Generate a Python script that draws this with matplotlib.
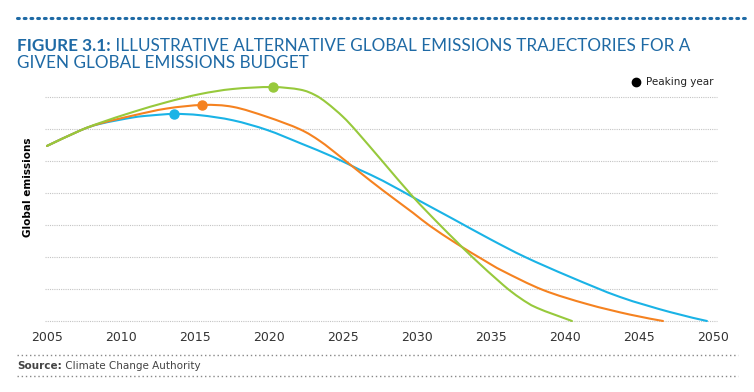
import matplotlib
matplotlib.use("Agg")
import matplotlib.pyplot as plt
from matplotlib.lines import Line2D
from matplotlib.path import Path
from matplotlib.patches import PathPatch

# ---- data (x in years, y in gridline units) ----
BLUE_YEARS = [2005.0, 2007.23, 2008.58, 2010.81, 2011.96, 2013.58, 2015.34, 2017.57, 2019.86,
              2022.09, 2024.32, 2026.15, 2027.70, 2030.07, 2032.43, 2034.93, 2037.30,
              2040.34, 2043.72, 2047.09, 2049.59]
BLUE_VALS = [5.47, 5.95, 6.16, 6.36, 6.42, 6.47, 6.43, 6.27, 5.97,
             5.56, 5.13, 4.72, 4.38, 3.78, 3.19, 2.56, 2.0,
             1.38, 0.75, 0.28, 0.0]

ORANGE_YEARS = [2005.0, 2007.23, 2008.58, 2010.81, 2013.11, 2015.54, 2017.57, 2019.86, 2022.09,
                2023.45, 2024.80, 2026.15, 2027.70, 2029.73, 2030.88, 2032.70, 2034.59,
                2035.81, 2038.51, 2041.49, 2044.39, 2046.62]
ORANGE_VALS = [5.47, 5.95, 6.17, 6.42, 6.64, 6.75, 6.69, 6.38, 5.99,
               5.62, 5.14, 4.64, 4.08, 3.38, 2.97, 2.41, 1.88,
               1.56, 0.97, 0.53, 0.20, 0.0]

GREEN_YEARS = [2005.0, 2007.23, 2008.58, 2010.81, 2013.11, 2015.34, 2017.57, 2020.20, 2022.09,
               2023.11, 2023.92, 2025.00, 2025.95, 2027.70, 2029.73, 2031.42, 2032.70, 2033.78,
               2035.81, 2036.96, 2038.11, 2040.47]
GREEN_VALS = [5.47, 5.95, 6.19, 6.53, 6.84, 7.09, 7.25, 7.31, 7.23,
              7.06, 6.81, 6.38, 5.91, 4.97, 3.88, 3.06, 2.47, 1.98,
              1.13, 0.72, 0.41, 0.0]

PEAK_YEARS = [2013.55, 2015.5, 2020.25]
PEAK_VALS = [6.47, 6.75, 7.31]

TICK_YEARS = [2005, 2010, 2015, 2020, 2025, 2030, 2035, 2040, 2045, 2050]
GRID_LEVELS = [0, 1, 2, 3, 4, 5, 6, 7]

BLUE = '#1ab3e6'
ORANGE = '#f58220'
GREEN = '#97c93c'
TITLE_BLUE = '#1f6aa5'


def smooth_path(xs, ys):
    # Catmull-Rom through the read points, drawn as cubic Bezier segments
    pts = list(zip(xs, ys))
    verts, codes = [pts[0]], [Path.MOVETO]
    for i in range(len(pts) - 1):
        p0 = pts[i - 1] if i > 0 else pts[i]
        p1, p2 = pts[i], pts[i + 1]
        p3 = pts[i + 2] if i + 2 < len(pts) else p2
        c1 = (p1[0] + (p2[0] - p0[0]) / 6, p1[1] + (p2[1] - p0[1]) / 6)
        c2 = (p2[0] - (p3[0] - p1[0]) / 6, p2[1] - (p3[1] - p1[1]) / 6)
        verts += [c1, c2, p2]
        codes += [Path.CURVE4] * 3
    return Path(verts, codes)


W, H = 754, 392
fig = plt.figure(figsize=(W / 100, H / 100), dpi=100)
ax = fig.add_axes([45 / W, (H - 321) / H, (717 - 45) / W, (321 - 80) / H])
ax.set_xlim(2004.865, 2050.27)
ax.set_ylim(0, 7.53)

for yrs, vals, col in [(BLUE_YEARS, BLUE_VALS, BLUE),
                       (ORANGE_YEARS, ORANGE_VALS, ORANGE),
                       (GREEN_YEARS, GREEN_VALS, GREEN)]:
    ax.add_patch(PathPatch(smooth_path(yrs, vals), fill=False, edgecolor=col, lw=1.5,
                           capstyle='round', joinstyle='round', clip_on=False, zorder=3))

for x, y, col in zip(PEAK_YEARS, PEAK_VALS, [BLUE, ORANGE, GREEN]):
    ax.plot([x], [y], 'o', color=col, markersize=6.5, zorder=4, clip_on=False)

ax.set_yticks(GRID_LEVELS)
ax.set_yticklabels([])
ax.set_xticks(TICK_YEARS)
ax.set_xticklabels([str(t) for t in TICK_YEARS], fontsize=9, color='#333333')
ax.tick_params(axis='both', length=0)
ax.tick_params(axis='x', pad=7)
ax.grid(axis='y', color='#c4c4c4', linestyle=(0, (1, 1)), lw=0.8)
for gl in ax.get_ygridlines():
    gl.set_clip_on(False)
for s in ax.spines.values():
    s.set_visible(False)

fig.text(28 / W, 1 - 187 / H, 'Global emissions', rotation=90, fontsize=7.5,
         fontweight='bold', ha='center', va='center')

# peaking year key
fig.add_artist(Line2D([636 / W], [1 - 82 / H], marker='o', color='black', markersize=6))
fig.text(646 / W, 1 - 82 / H, 'Peaking year', fontsize=7.5, va='center', color='#222222')

# title block
fig.add_artist(Line2D([17 / W, 745 / W], [1 - 18 / H, 1 - 18 / H], color=TITLE_BLUE,
                      lw=2.2, linestyle=(0, (0.6, 1.6)), dash_capstyle='round'))
t1 = fig.text(17 / W, 1 - 51 / H, 'FIGURE 3.1:', fontsize=12.3, fontweight='bold',
              color=TITLE_BLUE, va='baseline', family='Lato')
ax.annotate(' ILLUSTRATIVE ALTERNATIVE GLOBAL EMISSIONS TRAJECTORIES FOR A',
            xy=(1, 0), xycoords=t1, va='bottom', ha='left', fontsize=12.3,
            color=TITLE_BLUE, family='Lato', annotation_clip=False)
fig.text(17 / W, 1 - 68 / H, 'GIVEN GLOBAL EMISSIONS BUDGET', fontsize=12.3,
         color=TITLE_BLUE, va='baseline', family='Lato')

# source block
for yy in (355, 376):
    fig.add_artist(Line2D([17 / W, 738 / W], [1 - yy / H, 1 - yy / H], color='#888888',
                          lw=1.0, linestyle=(0, (1, 2))))
s1 = fig.text(17 / W, 1 - 366 / H, 'Source:', fontsize=7.5, fontweight='bold',
              color='#444444', va='center')
ax.annotate(' Climate Change Authority', xy=(1, 0.5), xycoords=s1, va='center',
            ha='left', fontsize=7.5, color='#444444', annotation_clip=False)

fig.savefig('out.png', dpi=100)
